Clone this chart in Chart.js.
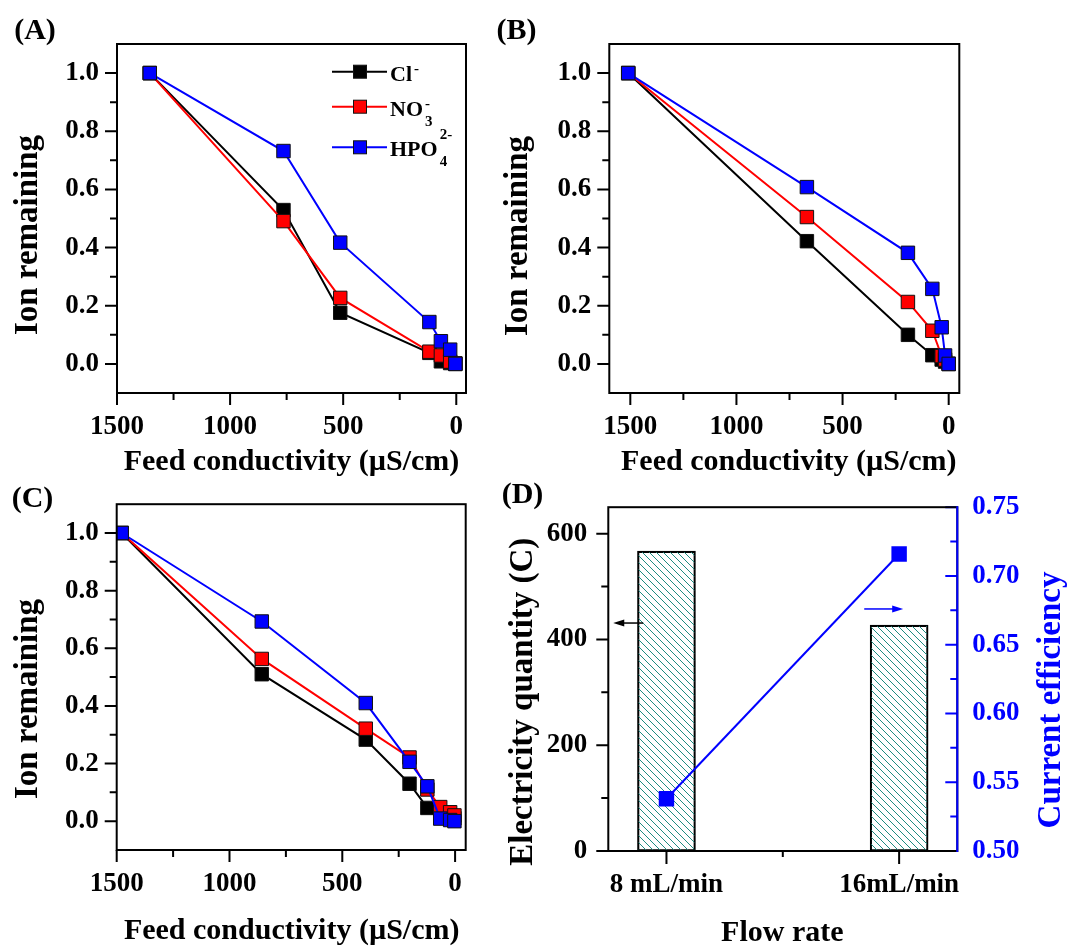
<!DOCTYPE html>
<html>
<head>
<meta charset="utf-8">
<script src="https://cdn.jsdelivr.net/npm/chart.js@4.4.1/dist/chart.umd.min.js"></script>
<style>
  body { margin: 0; background: #fff; }
  #wrap { position: relative; width: 1067px; height: 947px; }
  canvas { position: absolute; }
</style>
</head>
<body>
<div id="wrap">
  <canvas id="cA" width="490" height="480" style="left:0;top:0"></canvas>
  <canvas id="cB" width="490" height="480" style="left:490px;top:0"></canvas>
  <canvas id="cC" width="490" height="477" style="left:0;top:470px"></canvas>
  <canvas id="cD" width="577" height="477" style="left:490px;top:470px"></canvas>
</div>
<script>
const FONT = "'Liberation Serif', 'Times New Roman', serif"

// panel A
const condA = [1355, 764, 513, 119, 68, 27, 4]
const clA   = [1.0, 0.529, 0.176, 0.038, 0.009, 0.003, 0.0]
const no3A  = [1.0, 0.491, 0.227, 0.042, 0.029, 0.008, 0.002]
const hpoA  = [1.0, 0.732, 0.417, 0.144, 0.078, 0.049, 0.0]

// panel B
const condB = [1510, 668, 192, 77, 33, 17, 0]
const clB   = [1.0, 0.422, 0.1, 0.03, 0.015, 0.008, 0.0]
const no3B  = [1.0, 0.505, 0.213, 0.114, 0.027, 0.015, 0.0]
const hpoB  = [1.0, 0.608, 0.382, 0.258, 0.126, 0.029, 0.0]

// panel C
const condC = [1478, 857, 396, 202, 123, 66, 22, 3]
const clC   = [1.0, 0.51, 0.283, 0.13, 0.046, 0.028, 0.02, 0.01]
const no3C  = [1.0, 0.563, 0.321, 0.221, 0.11, 0.049, 0.031, 0.02]
const hpoC  = [1.0, 0.693, 0.41, 0.206, 0.121, 0.009, 0.004, 0.0]

// panel D
const flow = [8, 16]
const flowLabels = ['8 mL/min', '16mL/min']
const charge = [567, 427]
const efficiency = [0.538, 0.716]

// ticks
const ionTicks = [0, 0.2, 0.4, 0.6, 0.8, 1.0]
const ionMinor = [0.1, 0.3, 0.5, 0.7, 0.9]
const condTicks = [1500, 1000, 500, 0]
const condMinor = [1250, 750, 250]
const chargeTicks = [0, 200, 400, 600]
const chargeMinor = [100, 300, 500]
const effTicks = [0.5, 0.55, 0.6, 0.65, 0.7, 0.75]
const effMinor = [0.525, 0.575, 0.625, 0.675, 0.725]
const flowMinor = [12]

const legendBase = ['Cl', 'NO', 'HPO']
const legendSup = ['-', '-', '2-']
const legendSub = ['', '3', '4']
const ionColors = ['#000000', '#ff0000', '#0000ff']

function pts(xs, ys) {
  return xs.map((x, i) => ({ x: x, y: ys[i] }))
}

// frame, ticks, titles, legend and arrows
const frame = {
  id: 'frame',
  afterDraw(chart, args, o) {
    const ctx = chart.ctx
    const a = chart.chartArea
    ctx.save()
    ;(o.ticks || []).forEach(t => {
      const sc = chart.scales[t.scale]
      ctx.strokeStyle = t.color || '#000'
      ctx.lineWidth = 2
      ctx.beginPath()
      t.values.forEach(v => {
        const p = sc.getPixelForValue(v)
        if (t.at === 'bottom') { ctx.moveTo(p, a.bottom); ctx.lineTo(p, a.bottom + t.len) }
        if (t.at === 'left') { ctx.moveTo(a.left, p); ctx.lineTo(a.left - t.len, p) }
        if (t.at === 'right') { ctx.moveTo(a.right, p); ctx.lineTo(a.right + t.len, p) }
      })
      ctx.stroke()
    })
    ctx.strokeStyle = '#000'
    ctx.lineWidth = 2
    ctx.strokeRect(a.left, a.top, a.right - a.left, a.bottom - a.top)
    if (o.rightColor) {
      ctx.strokeStyle = o.rightColor
      ctx.beginPath(); ctx.moveTo(a.right, a.top - 1); ctx.lineTo(a.right, a.bottom + 1); ctx.stroke()
    }
    ;(o.arrows || []).forEach(r => {
      const xs = chart.scales.x, ys = chart.scales[r.axis]
      const x0 = xs.getPixelForValue(r.from), x1 = xs.getPixelForValue(r.to), y = ys.getPixelForValue(r.y)
      const d = x1 > x0 ? 1 : -1
      ctx.strokeStyle = r.color; ctx.fillStyle = r.color; ctx.lineWidth = 1.5
      ctx.beginPath(); ctx.moveTo(x0, y); ctx.lineTo(x1 - d * 8, y); ctx.stroke()
      ctx.beginPath(); ctx.moveTo(x1, y); ctx.lineTo(x1 - d * 11, y - 3.5); ctx.lineTo(x1 - d * 11, y + 3.5); ctx.closePath(); ctx.fill()
    })
    ctx.textAlign = 'center'
    ctx.textBaseline = 'middle'
    ;(o.texts || []).forEach(t => {
      ctx.save()
      ctx.translate(t.x, t.y)
      if (t.rot) ctx.rotate(t.rot)
      ctx.font = 'bold ' + t.size + 'px ' + FONT
      ctx.fillStyle = t.color || '#000'
      ctx.fillText(t.text, 0, 0)
      ctx.restore()
    })
    if (o.legend) {
      const L = o.legend
      ctx.textAlign = 'left'
      ctx.textBaseline = 'alphabetic'
      L.rows.forEach((ry, i) => {
        ctx.strokeStyle = ionColors[i]; ctx.lineWidth = 2
        ctx.beginPath(); ctx.moveTo(L.x0, ry); ctx.lineTo(L.x1, ry); ctx.stroke()
        ctx.fillStyle = ionColors[i]
        ctx.fillRect(L.mx - 6.5, ry - 6.5, 13, 13)
        ctx.strokeStyle = '#111'; ctx.lineWidth = 1
        ctx.strokeRect(L.mx - 6.5, ry - 6.5, 13, 13)
        ctx.fillStyle = '#000'
        ctx.font = 'bold 22px ' + FONT
        const by = ry + 9
        ctx.fillText(legendBase[i], L.tx, by)
        const w = ctx.measureText(legendBase[i]).width
        ctx.font = 'bold 15px ' + FONT
        ctx.fillText(legendSup[i], L.tx + w + 2, by + L.supDy[i])
        if (legendSub[i]) ctx.fillText(legendSub[i], L.tx + w + 2, by + 10)
      })
    }
    ctx.restore()
  }
}

function ionChart(id, box, cond, cl, no3, hpo, texts, legend) {
  const tickFont = { family: FONT, size: 27, weight: 'bold' }
  const ds = (data, color) => ({
    data: pts(cond, data), showLine: true, borderColor: color, borderWidth: 2,
    pointStyle: 'rect', pointRadius: 9.5, pointBackgroundColor: color,
    pointBorderColor: '#111', pointBorderWidth: 1
  })
  return new Chart(document.getElementById(id), {
    type: 'scatter',
    data: { datasets: [ds(hpo, ionColors[2]), ds(no3, ionColors[1]), ds(cl, ionColors[0])] },
    options: {
      responsive: false, animation: false, events: [], devicePixelRatio: 1,
      layout: { padding: { top: box.top, right: box.right, left: 0, bottom: 0 } },
      scales: {
        x: {
          type: 'linear', reverse: true, min: box.xmin, max: box.xmax,
          afterBuildTicks: s => { s.ticks = condTicks.map(v => ({ value: v })) },
          afterFit: s => { s.height = box.xh },
          grid: { display: false, drawTicks: false }, border: { display: false },
          ticks: { color: '#000', font: tickFont, padding: 18, maxRotation: 0, autoSkip: false, callback: v => String(v) }
        },
        y: {
          type: 'linear', min: -0.1, max: 1.1,
          afterBuildTicks: s => { s.ticks = ionTicks.map(v => ({ value: v })) },
          afterFit: s => { s.width = box.yw },
          grid: { display: false, drawTicks: false }, border: { display: false },
          ticks: { color: '#000', font: tickFont, padding: 18, autoSkip: false, callback: v => v.toFixed(1) }
        }
      },
      plugins: {
        legend: { display: false }, tooltip: { enabled: false },
        frame: {
          ticks: [
            { scale: 'x', at: 'bottom', len: 12, values: condTicks },
            { scale: 'x', at: 'bottom', len: 7, values: condMinor },
            { scale: 'y', at: 'left', len: 12, values: ionTicks },
            { scale: 'y', at: 'left', len: 7, values: ionMinor }
          ],
          texts: texts,
          legend: legend
        }
      }
    },
    plugins: [frame]
  })
}

ionChart('cA', { top: 44, right: 24, yw: 117, xh: 87, xmin: -43, xmax: 1500 }, condA, clA, no3A, hpoA, [
  { text: '(A)', x: 35, y: 31, size: 30 },
  { text: 'Feed conductivity (\u00b5S/cm)', x: 291.5, y: 462, size: 30 },
  { text: 'Ion remaining', x: 28, y: 235, size: 33, rot: -Math.PI / 2 }
], { x0: 332, x1: 387, mx: 360, tx: 390, rows: [71.7, 106.7, 147.3], supDy: [-8, -8, -17] })

ionChart('cB', { top: 44, right: 20.7, yw: 119.3, xh: 87, xmin: -50, xmax: 1599 }, condB, clB, no3B, hpoB, [
  { text: '(B)', x: 26.5, y: 31, size: 30 },
  { text: 'Feed conductivity (\u00b5S/cm)', x: 298.8, y: 462, size: 30 },
  { text: 'Ion remaining', x: 28, y: 236, size: 33, rot: -Math.PI / 2 }
], null)

ionChart('cC', { top: 31.7, right: 24.3, yw: 116.7, xh: 97, xmin: -47, xmax: 1500 }, condC, clC, no3C, hpoC, [
  { text: '(C)', x: 32.5, y: 29, size: 30 },
  { text: 'Feed conductivity (\u00b5S/cm)', x: 291.7, y: 461.7, size: 30 },
  { text: 'Ion remaining', x: 28, y: 229, size: 33, rot: -Math.PI / 2 }
], null)

// panel D
function hatch() {
  const c = document.createElement('canvas')
  c.width = 7; c.height = 7
  const g = c.getContext('2d')
  g.strokeStyle = '#1e8c82'
  g.lineWidth = 1
  g.beginPath()
  g.moveTo(0, 0); g.lineTo(7, 7)
  g.moveTo(-1, 6); g.lineTo(1, 8)
  g.moveTo(6, -1); g.lineTo(8, 1)
  g.stroke()
  return g.createPattern(c, 'repeat')
}

const dFont = { family: FONT, size: 27, weight: 'bold' }
new Chart(document.getElementById('cD'), {
  type: 'bar',
  data: {
    datasets: [
      {
        type: 'line', data: pts(flow, efficiency), yAxisID: 'y2', borderColor: '#0000ff', borderWidth: 2,
        pointStyle: 'rect', pointRadius: 9.5, pointBackgroundColor: '#0000ff', pointBorderColor: '#0000ff'
      },
      {
        type: 'bar', data: pts(flow, charge), yAxisID: 'y', backgroundColor: hatch(),
        borderColor: '#000', borderWidth: 1.5, borderSkipped: false, barThickness: 58
      }
    ]
  },
  options: {
    responsive: false, animation: false, events: [], devicePixelRatio: 1,
    layout: { padding: { top: 32.7, right: 0, left: 0, bottom: 0 } },
    scales: {
      x: {
        type: 'linear', min: 6, max: 18, offset: false,
        afterBuildTicks: s => { s.ticks = flow.map(v => ({ value: v })) },
        afterFit: s => { s.height = 96 },
        grid: { display: false, drawTicks: false }, border: { display: false },
        ticks: { color: '#000', font: dFont, padding: 18, maxRotation: 0, autoSkip: false, callback: v => flowLabels[flow.indexOf(v)] }
      },
      y: {
        type: 'linear', position: 'left', min: 0, max: 650,
        afterBuildTicks: s => { s.ticks = chargeTicks.map(v => ({ value: v })) },
        afterFit: s => { s.width = 118.3 },
        grid: { display: false, drawTicks: false }, border: { display: false },
        ticks: { color: '#000', font: dFont, padding: 21, autoSkip: false, callback: v => String(v) }
      },
      y2: {
        type: 'linear', position: 'right', min: 0.5, max: 0.75,
        afterBuildTicks: s => { s.ticks = effTicks.map(v => ({ value: v })) },
        afterFit: s => { s.width = 109.7 },
        grid: { display: false, drawTicks: false }, border: { display: false },
        ticks: { color: '#0000ff', font: dFont, padding: 15, autoSkip: false, callback: v => v.toFixed(2) }
      }
    },
    plugins: {
      legend: { display: false }, tooltip: { enabled: false },
      frame: {
        rightColor: '#0000ff',
        ticks: [
          { scale: 'x', at: 'bottom', len: 13, values: flow },
          { scale: 'x', at: 'bottom', len: 6, values: flowMinor },
          { scale: 'y', at: 'left', len: 12, values: chargeTicks },
          { scale: 'y', at: 'left', len: 7, values: chargeMinor },
          { scale: 'y2', at: 'right', len: -12, values: effTicks, color: '#0000ff' },
          { scale: 'y2', at: 'right', len: -7, values: effMinor, color: '#0000ff' }
        ],
        arrows: [
          { axis: 'y', from: 7.2, to: 6.17, y: 431, color: '#000' },
          { axis: 'y2', from: 14.8, to: 16.14, y: 0.676, color: '#0000ff' }
        ],
        texts: [
          { text: '(D)', x: 32.5, y: 25.5, size: 30 },
          { text: 'Flow rate', x: 292.3, y: 463, size: 30 },
          { text: 'Electricity quantity (C)', x: 33, y: 231.7, size: 33, rot: -Math.PI / 2 },
          { text: 'Current efficiency', x: 561.7, y: 230, size: 33, rot: -Math.PI / 2, color: '#0000ff' }
        ]
      }
    }
  },
  plugins: [frame]
})
</script>
</body>
</html>
